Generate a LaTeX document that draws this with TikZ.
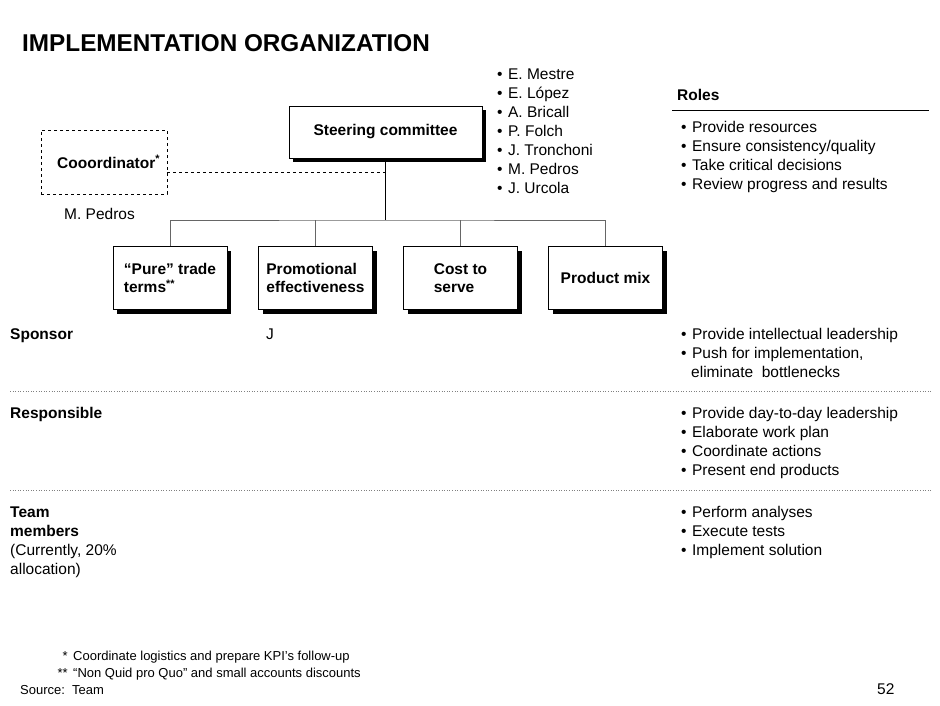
\documentclass[tikz,border=0pt]{standalone}
\usepackage{fontspec}
\setmainfont{Liberation Sans}
\usetikzlibrary{positioning,shadows}

\begin{document}
\begin{tikzpicture}[x=1pt,y=1pt]
        \tikzstyle{every node}+=[inner sep=0pt]
        \tikzstyle{txt}=[anchor=base west,font=\fontsize{15.5}{18}\selectfont]
        \tikzstyle{hdr}=[anchor=base west,font=\fontsize{15.5}{18.5}\selectfont\bfseries]
        \tikzstyle{note}=[anchor=base west,font=\fontsize{13}{15}\selectfont]
        \tikzstyle{unit}=[draw=black,fill=white,minimum width=114pt,minimum height=63pt,align=left,font=\fontsize{15.5}{18.5}\selectfont\bfseries,drop shadow={fill=black,opacity=1,shadow xshift=4pt,shadow yshift=-4pt}]
        \tikzstyle{bar}=[black!60]
        \tikzstyle{rule}=[gray,dotted,line width=0.6pt]
        \newcommand{\bul}{•\hspace{5.5pt}}
        \useasboundingbox (0,0) rectangle (940,-705);
        \node [anchor=base west,font=\fontsize{24.3}{28}\selectfont\bfseries] (title) at (22,-51) {IMPLEMENTATION ORGANIZATION};
        \node [unit,minimum width=193pt,minimum height=52pt,align=center] (steer) at (385.5,-132) {Steering committee};
        \node [draw=black,dashed,minimum width=126pt,minimum height=64pt] (coord) at (104,-162) {};
        \node [hdr] (coordtxt) at (57,-168) {Cooordinator\textsuperscript{*}};
        \node [txt] (coordname) at (64,-219) {M. Pedros};
        \coordinate (tie) at (385.5,-172);
        \draw [black,dashed] (coord.east |- tie) -- (tie);
        \node [unit] (pure) at (170,-278) {“Pure” trade\\terms\textsuperscript{**}};
        \node [unit] (promo) at (315.5,-278) {Promotional\\effectiveness};
        \node [unit] (cost) at (460.5,-278) {Cost to\\serve};
        \node [unit] (mix) at (605.5,-278) {Product mix};
        \coordinate (fork) at (385.5,-220);
        \draw [black] (steer.south) -- (fork);
        \draw [bar] (pure.north) |- (fork) -| (mix.north);
        \draw [bar] (promo.north) -- (promo.north |- fork);
        \draw [bar] (cost.north) -- (cost.north |- fork);
        \foreach \nm [count=\i] in {E. Mestre,E. López,A. Bricall,P. Folch,J. Tronchoni,M. Pedros,J. Urcola}
          \node [txt] (name\i) at (497,{-79.3-19*(\i-1)}) {\bul\nm};
        \node [hdr] (roles) at (677,-100.7) {Roles};
        \draw [black] (672,-110) -- (929,-110);
        \foreach \rl [count=\i] in {Provide resources,Ensure consistency/quality,Take critical decisions,Review progress and results}
          \node [txt] (role\i) at (681,{-132.7-19*(\i-1)}) {\bul\rl};
        \node [hdr] (sponsor) at (10,-339.5) {Sponsor};
        \node [txt] (sponsorname) at (266,-339.5) {J};
        \node [txt] (sponsor1) at (681,-339.5) {\bul Provide intellectual leadership};
        \node [txt] (sponsor2) at (681,-358.5) {\bul Push for implementation,};
        \node [txt] (sponsor3) at (691,-377.5) {eliminate\ \ bottlenecks};
        \draw [rule] (10,-391) -- (932,-391);
        \node [hdr] (resp) at (10,-418.5) {Responsible};
        \foreach \rs [count=\i] in {Provide day-to-day leadership,Elaborate work plan,Coordinate actions,Present end products}
          \node [txt] (resp\i) at (681,{-418.5-19*(\i-1)}) {\bul\rs};
        \draw [rule] (10,-490) -- (932,-490);
        \node [hdr] (team) at (10,-517.5) {Team};
        \node [hdr] (team2) at (10,-536.5) {members};
        \node [txt] (team3) at (10,-555.5) {(Currently, 20\%};
        \node [txt] (team4) at (10,-574.5) {allocation)};
        \foreach \tm [count=\i] in {Perform analyses,Execute tests,Implement solution}
          \node [txt] (team\i b) at (681,{-517.5-19*(\i-1)}) {\bul\tm};
        \node [note,anchor=base east] (star1) at (68,-660) {*};
        \node [note] (note1) at (73,-660) {Coordinate logistics and prepare KPI’s follow-up};
        \node [note,anchor=base east] (star2) at (68,-677) {**};
        \node [note] (note2) at (73,-677) {“Non Quid pro Quo” and small accounts discounts};
        \node [note] (source) at (20,-694) {Source:\ \ Team};
        \node [txt] (page) at (877,-694) {52};
\end{tikzpicture}
\end{document}
